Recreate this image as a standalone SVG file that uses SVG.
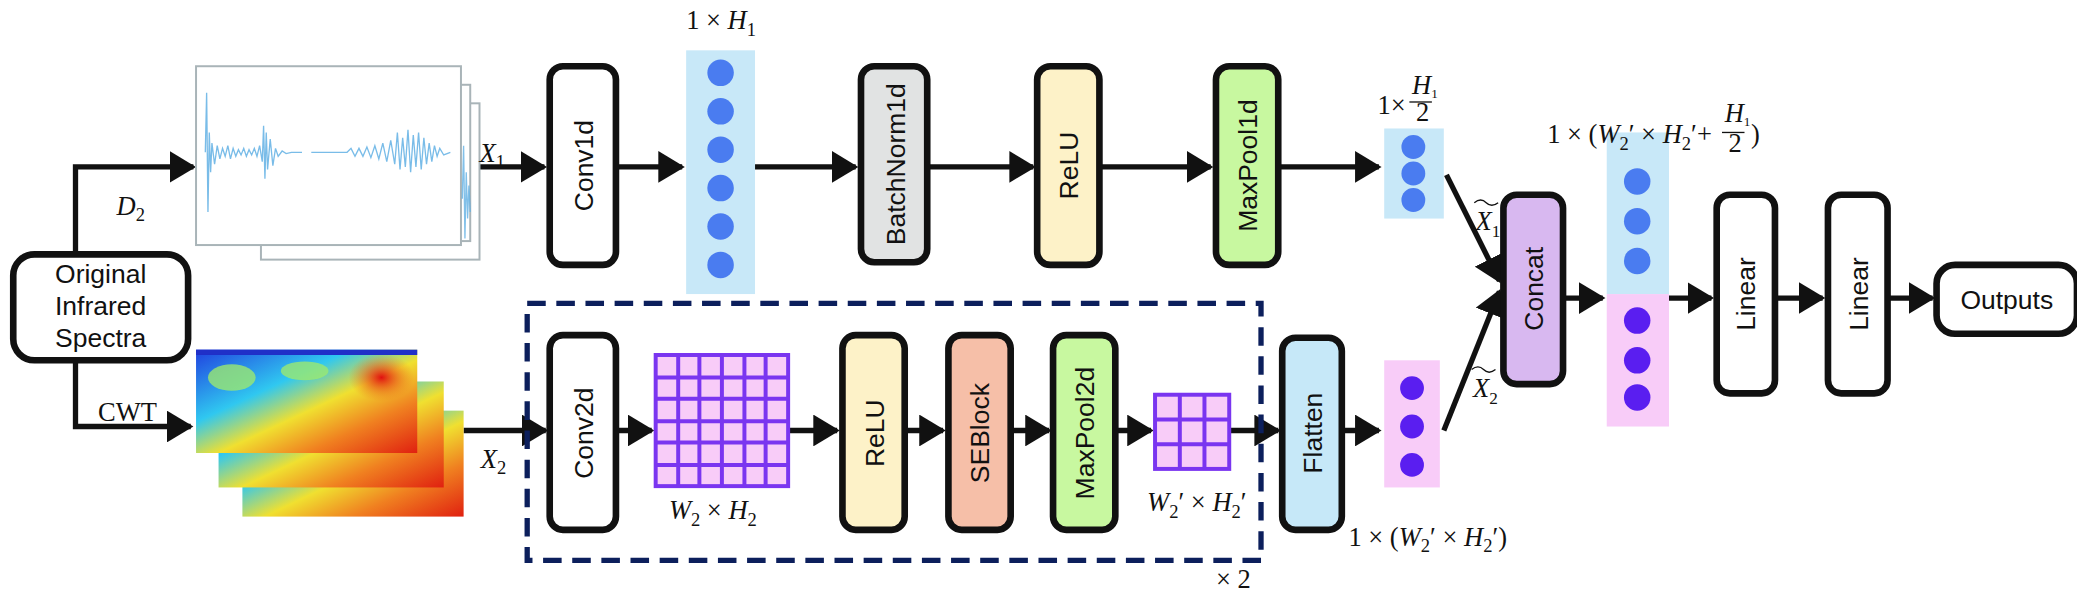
<svg xmlns="http://www.w3.org/2000/svg" width="2077" height="593" viewBox="0 0 2077 593">
<style>
.box{stroke:#111;stroke-width:5;}
.lbl{font-family:"Liberation Sans",Arial,sans-serif;font-size:20px;fill:#111;}
.m{font-family:"Liberation Serif","Times New Roman",serif;font-size:20px;fill:#111;}
.i{font-style:italic;}
.c{stroke:#111;stroke-width:4;fill:none;marker-end:url(#ah);}
.fr{fill:#fff;stroke:#a9b4b8;stroke-width:1.5;}
.g{fill:#f8ccf8;stroke:#7a35f0;stroke-width:3;}
</style>
<defs>
<marker id="ah" markerWidth="6" markerHeight="6" refX="4.5" refY="3" orient="auto" markerUnits="strokeWidth"><path d="M0,0 L5,3 L0,6 z" fill="#111"/></marker>
<linearGradient id="cw" x1="0" y1="0" x2="1" y2="1">
<stop offset="0" stop-color="#2040e0"/><stop offset="0.35" stop-color="#30c8f0"/><stop offset="0.55" stop-color="#f0e030"/><stop offset="0.75" stop-color="#f08020"/><stop offset="1" stop-color="#e02010"/></linearGradient>
<radialGradient id="hot" cx="0.5" cy="0.5" r="0.5"><stop offset="0" stop-color="#e01010"/><stop offset="1" stop-color="#f07020" stop-opacity="0"/></radialGradient>
</defs>
<g transform="scale(1.3246)">
<g id="connectors">
<path class="c" d="M57,192 V126 H146"/>
<path class="c" d="M57,272 V322 H144"/>
<path class="c" d="M345,126 H411"/>
<path class="c" d="M465,126 H515"/>
<path class="c" d="M570,126 H646"/>
<path class="c" d="M700,126 H780"/>
<path class="c" d="M830,126 H914"/>
<path class="c" d="M965,126 H1041"/>
<path class="c" d="M1092,132 L1132,212"/>
<path class="c" d="M1090,325 L1132,220"/>
<path class="c" d="M1180,225 H1210"/>
<path class="c" d="M1260,225 H1292"/>
<path class="c" d="M1340,225 H1376"/>
<path class="c" d="M1425,225 H1459"/>
<path class="c" d="M350,325 H412"/>
<path class="c" d="M465,325 H492"/>
<path class="c" d="M595,325 H632"/>
<path class="c" d="M683,325 H712"/>
<path class="c" d="M763,325 H792"/>
<path class="c" d="M842,325 H869"/>
<path class="c" d="M928,325 H965"/>
<path class="c" d="M1013,325 H1041"/>
</g>
<g id="orig"><rect class="box" x="10" y="192" width="132" height="80" rx="16" fill="#fff"/>
<text class="lbl" x="76" y="214" text-anchor="middle">Original</text><text class="lbl" x="76" y="238" text-anchor="middle">Infrared</text><text class="lbl" x="76" y="262" text-anchor="middle">Spectra</text></g>
<text class="m i" x="88" y="162">D<tspan font-size="14" font-style="normal" dy="5">2</tspan></text>
<text class="m" x="74" y="318">CWT</text>
<g id="spectra">
<rect class="fr" x="197" y="78" width="165" height="118"/>
<rect class="fr" x="172" y="64" width="183" height="118"/>
<rect class="fr" x="148" y="50" width="200" height="135"/>
<path d="M155,115 L156,70 L157,160 L158,100 L159,130 L160,108 L162,124 L164,110 L166,120 L168,112 L170,118 L172,110 L174,120 L176,112 L178,118 L180,113 L182,117 L184,112 L186,118 L188,113 L190,117 L192,112 L194,118 L196,110 L198,122 L199,95 L200,135 L201,100 L202,128 L204,105 L206,125 L208,112 L210,118 L213,114 L216,116 L220,115 H228 M235,115 H262 L265,112 L268,118 L271,112 L274,118 L277,111 L280,119 L283,110 L286,120 L289,108 L292,122 L295,106 L298,124 L300,100 L302,128 L304,104 L306,126 L308,98 L310,130 L312,102 L314,126 L316,100 L318,128 L320,104 L322,124 L324,108 L326,122 L328,110 L330,118 L332,112 L335,117 L340,115" stroke="#62b0e4" stroke-width="1" fill="none" opacity="0.85"/>
<path d="M349,150 L350,110 L351,180 L352,130 L353,165 L354,140 L355,160" stroke="#62b0e4" stroke-width="1" fill="none" opacity="0.8"/>
</g>
<g id="cwt">
<rect x="183" y="310" width="167" height="80" fill="url(#cw)"/>
<rect x="165" y="288" width="170" height="80" fill="url(#cw)"/>
<rect x="148" y="264" width="167" height="78" fill="url(#cw)"/>
<ellipse cx="288" cy="285" rx="25" ry="18" fill="url(#hot)"/>
<ellipse cx="175" cy="285" rx="18" ry="10" fill="#9be870" opacity="0.8"/>
<ellipse cx="230" cy="280" rx="18" ry="7" fill="#9be870" opacity="0.8"/>
<rect x="148" y="264" width="167" height="4" fill="#2030c8"/>
</g>
<text class="m i" x="362" y="122">X<tspan font-size="14" font-style="normal" dy="5">1</tspan></text>
<text class="m i" x="363" y="353">X<tspan font-size="14" font-style="normal" dy="5">2</tspan></text>
<g id="conv1d"><rect class="box" x="415" y="50" width="50" height="150" rx="10" fill="#fff"/><text class="lbl" transform="translate(448,125) rotate(-90)" text-anchor="middle">Conv1d</text></g>
<g id="vec1"><rect x="518" y="38" width="52" height="184" fill="#c8e8f8"/>
<g fill="#4a7cf0"><circle cx="544" cy="55" r="10"/><circle cx="544" cy="84" r="10"/><circle cx="544" cy="113" r="10"/><circle cx="544" cy="142" r="10"/><circle cx="544" cy="171" r="10"/><circle cx="544" cy="200" r="10"/></g></g>
<text class="m" x="518" y="22">1 × <tspan class="i">H</tspan><tspan font-size="14" dy="5">1</tspan></text>
<g id="bn"><rect class="box" x="650" y="50" width="50" height="148" rx="10" fill="#e1e3e3"/><text class="lbl" transform="translate(683,124) rotate(-90)" text-anchor="middle">BatchNorm1d</text></g>
<g id="relu1"><rect class="box" x="783" y="50" width="47" height="150" rx="10" fill="#fdf2c8"/><text class="lbl" transform="translate(814,125) rotate(-90)" text-anchor="middle">ReLU</text></g>
<g id="mp1"><rect class="box" x="918" y="50" width="47" height="150" rx="10" fill="#c8f8a0"/><text class="lbl" transform="translate(949,125) rotate(-90)" text-anchor="middle">MaxPool1d</text></g>
<g id="vec2"><rect x="1045" y="97" width="45" height="68" fill="#c8e8f8"/>
<g fill="#4a7cf0"><circle cx="1067" cy="111" r="9"/><circle cx="1067" cy="131" r="9"/><circle cx="1067" cy="151" r="9"/></g></g>
<text class="m" x="1040" y="86">1×</text>
<text class="m i" x="1066" y="71" font-size="13">H<tspan font-size="10" font-style="normal" dy="3">1</tspan></text>
<line x1="1064" y1="77" x2="1081" y2="77" stroke="#111" stroke-width="1"/>
<text class="m" x="1069" y="91" font-size="13">2</text>
<text class="m i" x="1114" y="174">X<tspan font-size="13" font-style="normal" dy="5">1</tspan></text>
<path d="M1113,153 q5,-4 9,0 t9,0" stroke="#111" fill="none"/>
<text class="m i" x="1112" y="300">X<tspan font-size="13" font-style="normal" dy="5">2</tspan></text>
<path d="M1111,279 q5,-4 9,0 t9,0" stroke="#111" fill="none"/>
<g id="concat"><rect class="box" x="1135" y="147" width="45" height="143" rx="10" fill="#d8b8f0"/><text class="lbl" transform="translate(1165,218) rotate(-90)" text-anchor="middle">Concat</text></g>
<g id="vec3"><rect x="1213" y="100" width="47" height="122" fill="#c8e8f8"/><rect x="1213" y="222" width="47" height="100" fill="#f8ccf8"/>
<g fill="#4a7cf0"><circle cx="1236" cy="137" r="10"/><circle cx="1236" cy="167" r="10"/><circle cx="1236" cy="197" r="10"/></g>
<g fill="#5a1ef0"><circle cx="1236" cy="242" r="10"/><circle cx="1236" cy="272" r="10"/><circle cx="1236" cy="300" r="10"/></g></g>
<text class="m" x="1168" y="108">1 × (<tspan class="i">W</tspan><tspan font-size="14" dy="5">2</tspan><tspan dy="-5">′ × </tspan><tspan class="i">H</tspan><tspan font-size="14" dy="5">2</tspan><tspan dy="-5">′+</tspan></text>
<text class="m i" x="1302" y="92" font-size="13">H<tspan font-size="10" font-style="normal" dy="3">1</tspan></text>
<line x1="1300" y1="100" x2="1317" y2="100" stroke="#111" stroke-width="1"/>
<text class="m" x="1305" y="115" font-size="13">2</text>
<text class="m" x="1322" y="108">)</text>
<g id="lin1"><rect class="box" x="1296" y="147" width="44" height="150" rx="10" fill="#fff"/><text class="lbl" transform="translate(1325,222) rotate(-90)" text-anchor="middle">Linear</text></g>
<g id="lin2"><rect class="box" x="1380" y="147" width="45" height="150" rx="10" fill="#fff"/><text class="lbl" transform="translate(1410,222) rotate(-90)" text-anchor="middle">Linear</text></g>
<g id="out"><rect class="box" x="1462" y="200" width="106" height="52" rx="14" fill="#fff"/><text class="lbl" x="1515" y="233" text-anchor="middle">Outputs</text></g>
<rect x="398" y="229" width="554" height="194" fill="none" stroke="#0c1f5c" stroke-width="4" stroke-dasharray="14,8"/>
<text class="m" x="918" y="444">× 2</text>
<g id="conv2d"><rect class="box" x="415" y="253" width="50" height="147" rx="10" fill="#fff"/><text class="lbl" transform="translate(448,327) rotate(-90)" text-anchor="middle">Conv2d</text></g>
<g id="grid1"><rect class="g" x="495" y="268" width="100" height="99"/>
<path d="M512,268V367M528,268V367M545,268V367M562,268V367M578,268V367M495,285H595M495,301H595M495,318H595M495,334H595M495,351H595" stroke="#7a35f0" stroke-width="3"/></g>
<text class="m" x="505" y="392"><tspan class="i">W</tspan><tspan font-size="14" dy="5">2</tspan><tspan dy="-5"> × </tspan><tspan class="i">H</tspan><tspan font-size="14" dy="5">2</tspan></text>
<g id="relu2"><rect class="box" x="636" y="253" width="47" height="147" rx="10" fill="#fdf2c8"/><text class="lbl" transform="translate(667,327) rotate(-90)" text-anchor="middle">ReLU</text></g>
<g id="se"><rect class="box" x="716" y="253" width="47" height="147" rx="10" fill="#f6bfa8"/><text class="lbl" transform="translate(747,327) rotate(-90)" text-anchor="middle">SEBlock</text></g>
<g id="mp2"><rect class="box" x="795" y="253" width="47" height="147" rx="10" fill="#c8f8a0"/><text class="lbl" transform="translate(826,327) rotate(-90)" text-anchor="middle">MaxPool2d</text></g>
<g id="grid2"><rect class="g" x="872" y="298" width="56" height="56"/>
<path d="M890.7,298V354M909.3,298V354M872,316.7H928M872,335.3H928" stroke="#7a35f0" stroke-width="3"/></g>
<text class="m" x="866" y="386"><tspan class="i">W</tspan><tspan font-size="14" dy="5">2</tspan><tspan dy="-5">′ × </tspan><tspan class="i">H</tspan><tspan font-size="14" dy="5">2</tspan><tspan dy="-5">′</tspan></text>
<g id="flatten"><rect class="box" x="968" y="255" width="45" height="145" rx="10" fill="#c6e8f8"/><text class="lbl" transform="translate(998,327) rotate(-90)" text-anchor="middle">Flatten</text></g>
<g id="vec4"><rect x="1045" y="272" width="42" height="96" fill="#f8ccf8"/>
<g fill="#5a1ef0"><circle cx="1066" cy="293" r="9"/><circle cx="1066" cy="322" r="9"/><circle cx="1066" cy="351" r="9"/></g></g>
<text class="m" x="1018" y="412">1 × (<tspan class="i">W</tspan><tspan font-size="14" dy="5">2</tspan><tspan dy="-5">′ × </tspan><tspan class="i">H</tspan><tspan font-size="14" dy="5">2</tspan><tspan dy="-5">′)</tspan></text>
</g>
</svg>
